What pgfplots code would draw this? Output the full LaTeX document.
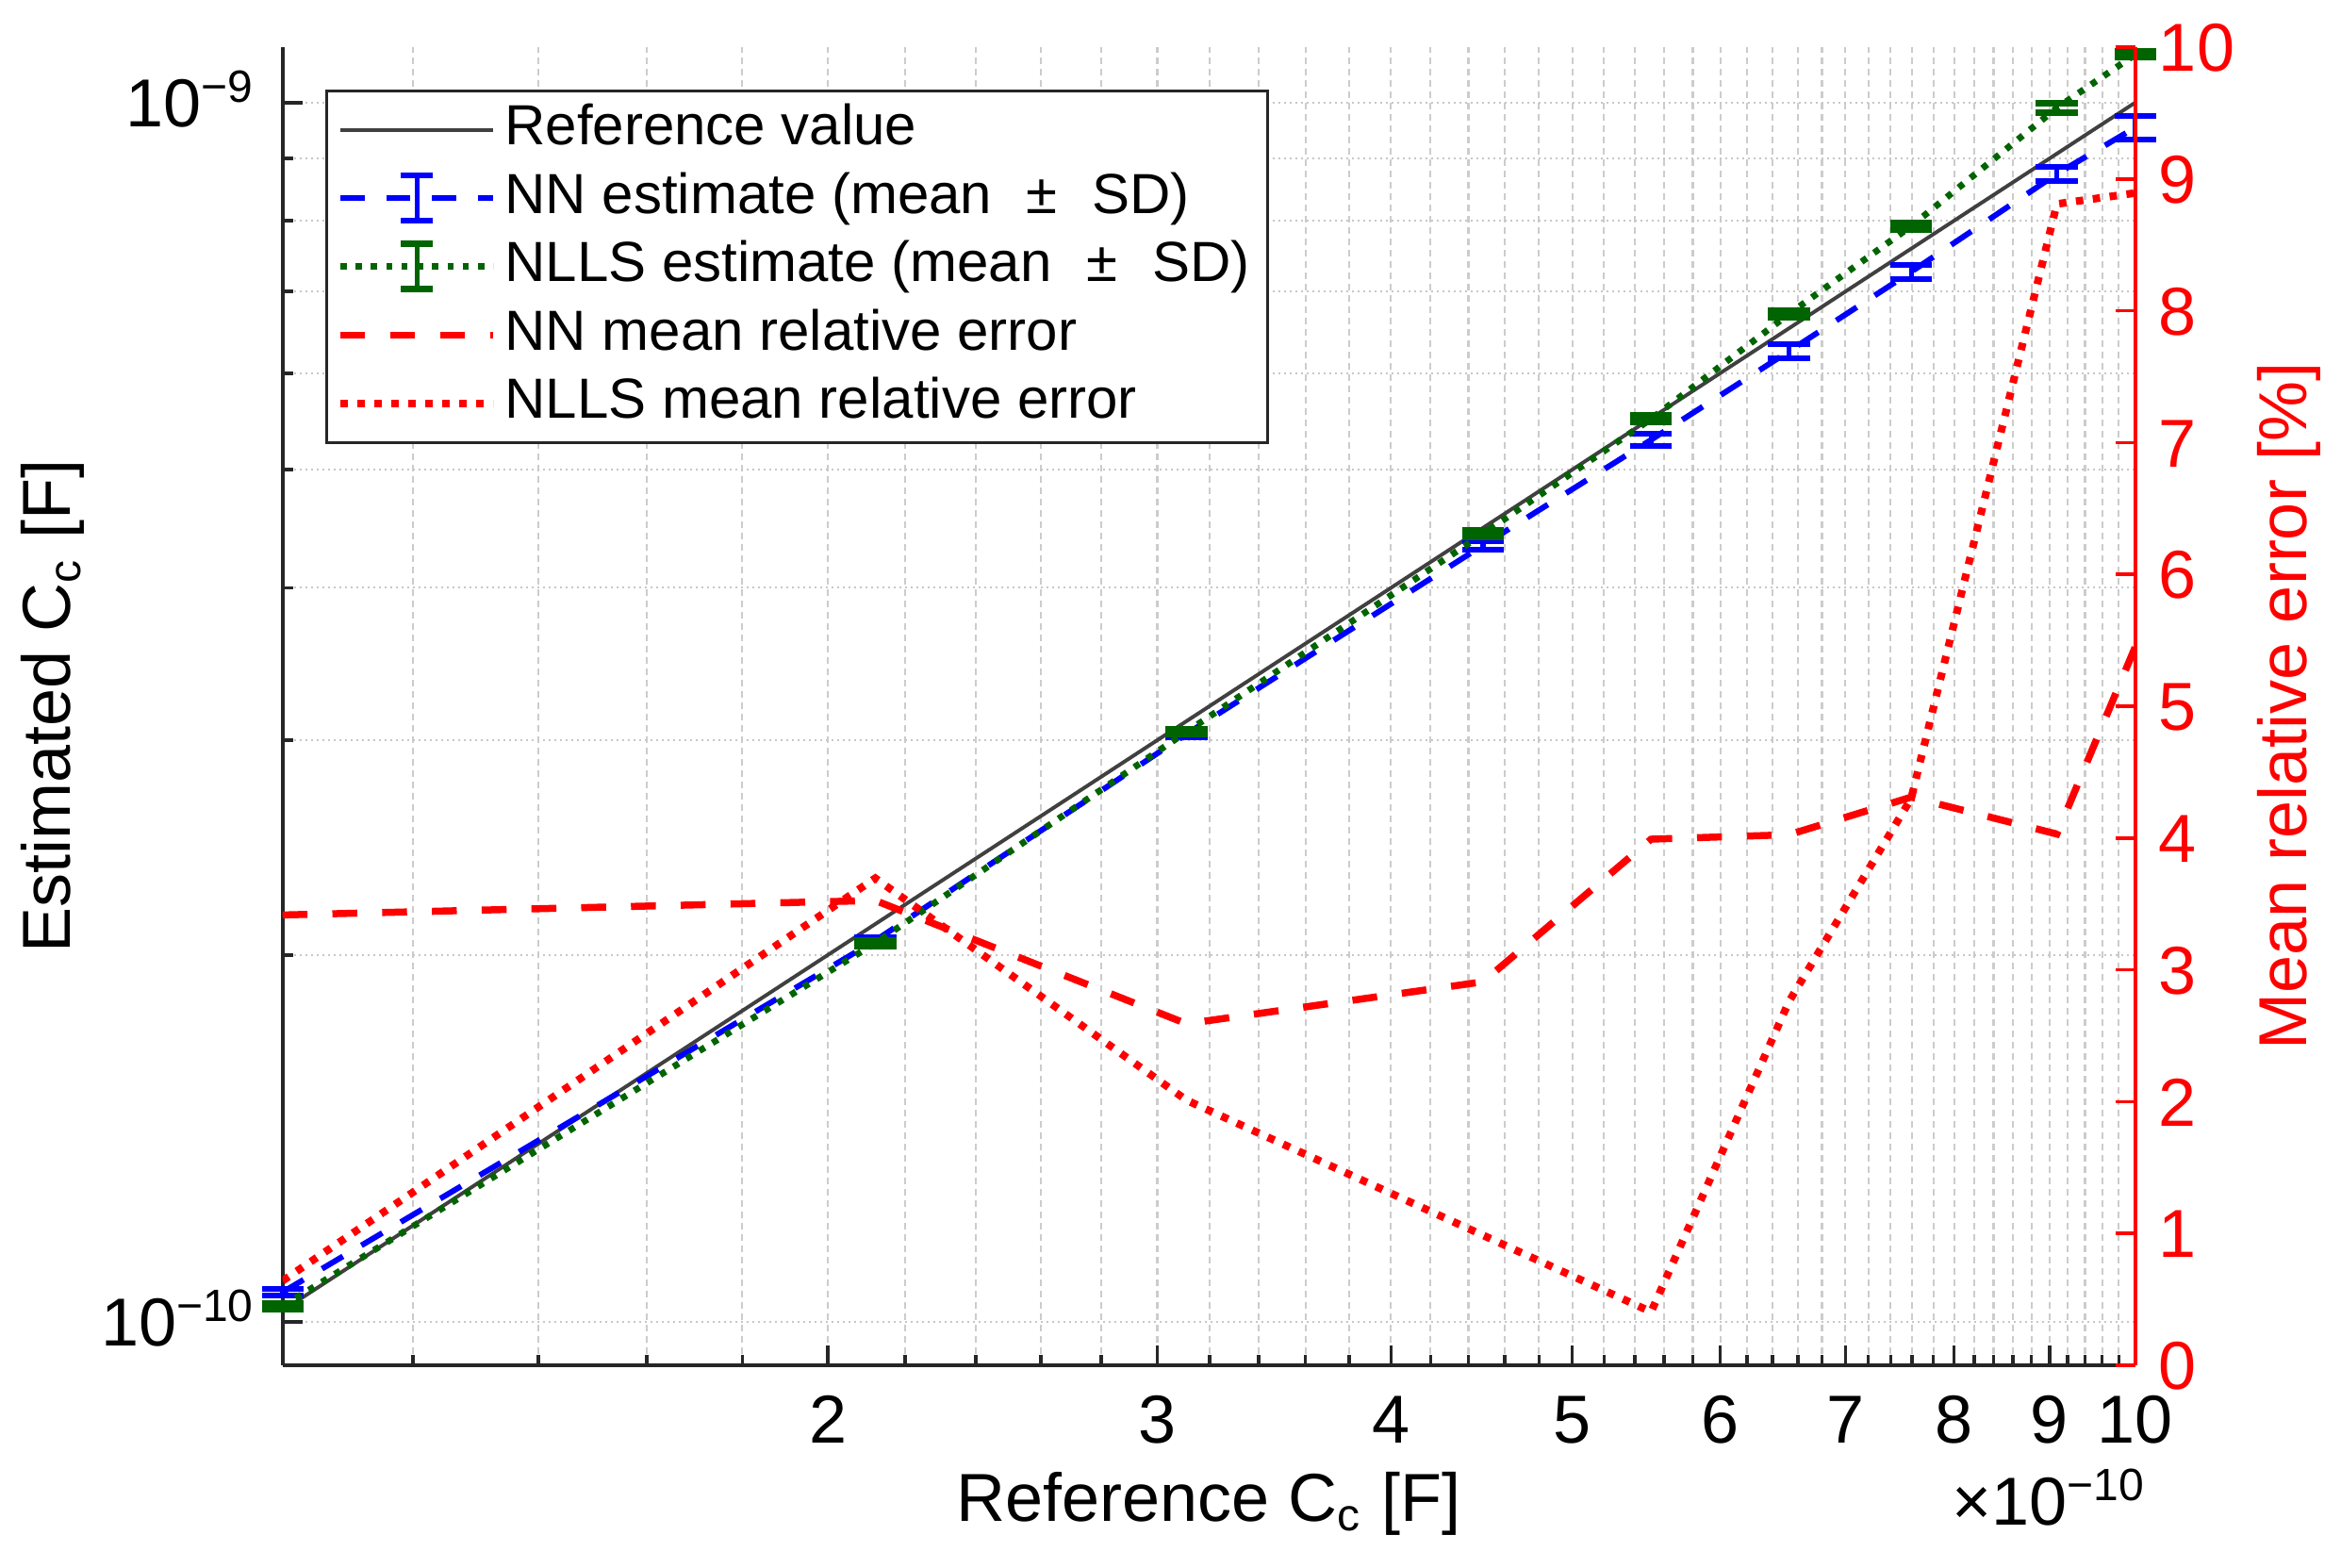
\documentclass[border=0pt]{standalone}
\usepackage{fontspec}
\setmainfont{Liberation Sans}
\usepackage{pgfplots}
\pgfplotsset{compat=1.18}
\usepackage{pgfplotstable}

\definecolor{nlls}{RGB}{0,100,0}
\definecolor{axgray}{RGB}{38,38,38}
\definecolor{refgray}{RGB}{64,64,64}

\pgfplotstableread{
x m s
1.022e-10 1.058e-10 0.006e-10
2.12e-10 2.055e-10 0.012e-10
3.11e-10 3.035e-10 0.02e-10
4.48e-10 4.335e-10 0.035e-10
5.51e-10 5.29e-10 0.065e-10
6.53e-10 6.253e-10 0.08e-10
7.59e-10 7.265e-10 0.10e-10
9.08e-10 8.74e-10 0.12e-10
10.0e-10 9.54e-10 0.21e-10
}\nn

\pgfplotstableread{
x m s
1.022e-10 1.0305e-10 0.005e-10
2.12e-10 2.045e-10 0.01e-10
3.11e-10 3.048e-10 0.015e-10
4.48e-10 4.43e-10 0.028e-10
5.51e-10 5.503e-10 0.035e-10
6.53e-10 6.71e-10 0.04e-10
7.59e-10 7.92e-10 0.045e-10
9.08e-10 9.90e-10 0.094e-10
10.0e-10 10.95e-10 0.055e-10
}\nlls

\pgfplotstableread{
x nn nlls
1.022e-10 3.416 0.641
2.12e-10 3.526 3.695
3.11e-10 2.591 2.011
4.48e-10 2.909 0.986
5.51e-10 3.991 0.405
6.53e-10 4.025 2.76
7.59e-10 4.31 4.30
9.08e-10 4.03 8.81
10.0e-10 5.45 8.893
}\relerr

\begin{document}
\begin{tikzpicture}
\useasboundingbox (-50pt,-35.83pt) rectangle (363.83pt,241.33pt);
\begin{axis}[
  at={(0pt,0pt)}, anchor=south west, scale only axis,
  width=327.5pt, height=233pt,
  xmode=log, ymode=log,
  xmin=1.022e-10, xmax=1e-9, ymin=0.9213e-10, ymax=1.1101e-9,
  axis x line=bottom, axis y line=left,
  axis line style={-, draw=axgray, line width=0.6pt},
  tick align=inside,
  major tick length=3.5pt, minor tick length=1.9pt,
  tick style={axgray, line width=0.6pt},
  xtick={2e-10,3e-10,4e-10,5e-10,6e-10,7e-10,8e-10,9e-10,1e-9},
  xticklabels={2,3,4,5,6,7,8,9,10},
  minor xtick={1.2e-10,1.4e-10,1.6e-10,1.8e-10,
    2.2e-10,2.4e-10,2.6e-10,2.8e-10,
    3.2e-10,3.4e-10,3.6e-10,3.8e-10,
    4.2e-10,4.4e-10,4.6e-10,4.8e-10,
    5.2e-10,5.4e-10,5.6e-10,5.8e-10,
    6.2e-10,6.4e-10,6.6e-10,6.8e-10,
    7.2e-10,7.4e-10,7.6e-10,7.8e-10,
    8.2e-10,8.4e-10,8.6e-10,8.8e-10,
    9.2e-10,9.4e-10,9.6e-10,9.8e-10},
  ytick={1e-10,1e-9},
  yticklabels={10\textsuperscript{−10},10\textsuperscript{−9}},
  minor ytick={2e-10,3e-10,4e-10,5e-10,6e-10,7e-10,8e-10,9e-10},
  grid=both,
  x grid style={black!20, line width=0.35pt, dash pattern=on 1.2pt off 0.8pt},
  y grid style={black!22, line width=0.35pt, dash pattern=on 0.4pt off 0.6pt},
  tick label style={font=\fontsize{12}{14}\selectfont},
  xticklabel style={anchor=base, inner sep=0pt, yshift=-13.7pt},
  yticklabel style={anchor=base east, inner sep=0pt, xshift=-4.5pt, yshift=-4.3pt},
  label style={font=\fontsize{12}{14}\selectfont},
  xlabel={Reference C\textsubscript{c} [F]},
  ylabel={Estimated C\textsubscript{c} [F]},
  xlabel style={at={([yshift=-27.5pt]axis description cs:0.5,0)}, anchor=base, inner sep=0pt},
  ylabel style={at={([xshift=-37.5pt]axis description cs:0,0.5)}, anchor=base, inner sep=0pt},
  clip=false,
]
\addplot[refgray, line width=0.65pt] coordinates {(1.022e-10,1.022e-10) (1e-9,1e-9)};
\addplot[blue, line width=1.0pt, dash pattern=on 4.3pt off 3.8pt,
  error bars/.cd, y dir=both, y explicit,
  error bar style={solid, line width=0.85pt},
  error mark options={rotate=90, solid, line width=1pt, mark size=3.7pt, blue}]
  table[x=x, y=m, y error=s] {\nn};
\addplot[nlls, line width=1.15pt, dash pattern=on 1.1pt off 1.6pt,
  error bars/.cd, y dir=both, y explicit,
  error bar style={solid, line width=0.85pt},
  error mark options={rotate=90, solid, line width=1.2pt, mark size=3.7pt, nlls}]
  table[x=x, y=m, y error=s] {\nlls};
\node[anchor=base east, inner sep=0pt, font=\fontsize{12}{14}\selectfont]
  at ([xshift=2.2pt,yshift=-28.2pt]rel axis cs:1,0) {×10\textsuperscript{−10}};
\end{axis}

\begin{axis}[
  at={(0pt,0pt)}, anchor=south west, scale only axis,
  width=327.5pt, height=233pt,
  xmode=log, xmin=1.022e-10, xmax=1e-9, ymin=0, ymax=10,
  axis x line=none, axis y line=right,
  axis line style={-, draw=red, line width=0.6pt},
  tick align=inside, major tick length=3.5pt,
  ytick={0,1,2,3,4,5,6,7,8,9,10},
  yticklabels={0,1,2,3,4,5,6,7,8,9,10},
  tick style={red, line width=0.6pt},
  tick label style={font=\fontsize{12}{14}\selectfont},
  yticklabel style={red, anchor=base west, inner sep=0pt, xshift=4pt, yshift=-4.3pt},
  ylabel={Mean relative error [\%]},
  ylabel style={red, font=\fontsize{12}{14}\selectfont,
    at={([xshift=30.2pt]axis description cs:1,0.5)}, anchor=base, inner sep=0pt},
  legend style={at={(0,1)}, anchor=north west, xshift=7.5pt, yshift=-7.5pt,
    draw=axgray, line width=0.5pt, fill=white,
    font=\fontsize{10}{12}\selectfont,
    inner xsep=1.8pt, inner ysep=0.8pt,
    nodes={inner xsep=1.4pt, inner ysep=0pt, text height=8.7pt, text depth=3.4pt}},
  legend cell align=left,
  legend image code/.code={\draw[#1] (0pt,0pt) -- (27pt,0pt);},
]
\addlegendimage{refgray, line width=0.65pt}
\addlegendentry{Reference value}
\addlegendimage{legend image code/.code={
  \draw[blue, line width=1pt, dash pattern=on 4.3pt off 3.8pt] (0pt,0pt) -- (27pt,0pt);
  \draw[blue, line width=0.85pt] (13.5pt,-4pt) -- (13.5pt,4pt);
  \draw[blue, line width=1pt] (10.7pt,-4pt) -- (16.3pt,-4pt) (10.7pt,4pt) -- (16.3pt,4pt);}}
\addlegendentry{NN estimate (mean \,\,±\,\, SD)}
\addlegendimage{legend image code/.code={
  \draw[nlls, line width=1.15pt, dash pattern=on 1.1pt off 1.6pt] (0pt,0pt) -- (27pt,0pt);
  \draw[nlls, line width=0.85pt] (13.5pt,-4pt) -- (13.5pt,4pt);
  \draw[nlls, line width=1.2pt] (10.7pt,-4pt) -- (16.3pt,-4pt) (10.7pt,4pt) -- (16.3pt,4pt);}}
\addlegendentry{NLLS estimate (mean \,\,±\,\, SD)}
\addplot[red, line width=1.25pt, dash pattern=on 4.4pt off 4.4pt] table[x=x, y=nn] {\relerr};
\addlegendentry{NN mean relative error}
\addplot[red, line width=1.35pt, dash pattern=on 1.3pt off 1.7pt] table[x=x, y=nlls] {\relerr};
\addlegendentry{NLLS mean relative error}
\end{axis}
\end{tikzpicture}
\end{document}
